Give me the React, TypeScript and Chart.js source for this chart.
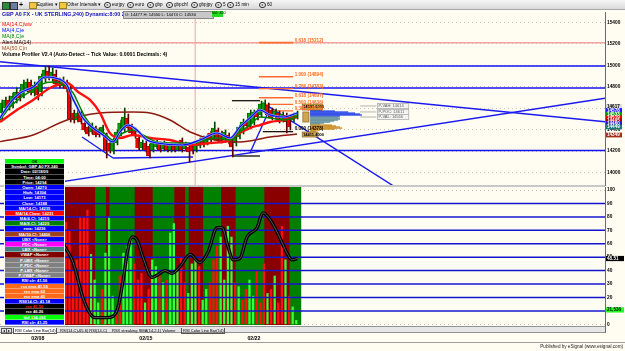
import React, { useEffect, useRef } from "react";
import { Chart, registerables } from "chart.js";
Chart.register(...registerables);

const FONT = '"Liberation Sans", Arial, sans-serif';

// ---------- price panel data (4h candles, index = bar number) ----------
const opens = [14555,14602,14677,14620,14677,14751,14714,14789,14845,14742,14807,14751,14873,14947,14882,14919,14863,14807,14845,14789,14555,14490,14555,14462,14425,14378,14415,14397,14359,14350,14275,14201,14275,14359,14397,14509,14434,14397,14322,14229,14275,14247,14210,14238,14266,14219,14257,14210,14247,14210,14303,14219,14238,14247,14210,14247,14322,14275,14369,14322,14397,14369,14303,14350,14303,14275,14331,14378,14471,14425,14462,14565,14537,14583,14630,14583,14518,14555,14490,14537,14518,14490,14509];
const highs = [14677,14705,14714,14742,14789,14770,14863,14873,14863,14845,14826,14919,14994,14994,14975,14957,14882,14892,14863,14807,14583,14583,14574,14480,14443,14462,14434,14415,14443,14369,14303,14322,14397,14490,14602,14546,14453,14415,14341,14303,14294,14266,14294,14303,14285,14294,14275,14275,14266,14266,14322,14285,14257,14266,14275,14322,14341,14350,14387,14471,14415,14387,14397,14369,14322,14369,14443,14499,14490,14583,14583,14593,14667,14677,14649,14602,14593,14574,14565,14555,14537,14555,14574];
const lows = [14490,14565,14583,14602,14649,14667,14695,14751,14723,14714,14677,14714,14845,14863,14854,14807,14789,14789,14751,14471,14462,14471,14453,14378,14341,14359,14331,14331,14341,14135,14182,14173,14257,14341,14378,14397,14350,14322,14210,14210,14191,14135,14191,14219,14191,14201,14191,14191,14191,14201,14191,14201,14098,14173,14191,14229,14238,14257,14285,14303,14285,14275,14285,14266,14145,14247,14313,14359,14415,14406,14443,14490,14518,14555,14518,14490,14499,14462,14471,14369,14397,14471,14499];
const closes = [14649,14677,14611,14714,14751,14695,14826,14845,14751,14817,14723,14901,14957,14882,14938,14826,14807,14863,14779,14499,14490,14555,14471,14397,14359,14443,14350,14350,14425,14201,14201,14303,14378,14462,14518,14415,14369,14350,14229,14285,14210,14154,14275,14285,14210,14275,14210,14257,14210,14247,14210,14266,14191,14201,14257,14303,14257,14331,14303,14415,14303,14303,14378,14285,14238,14350,14425,14471,14434,14555,14565,14518,14639,14649,14537,14509,14574,14471,14546,14471,14425,14546,14555];

// moving averages: [bar index, price]
const ma14ww = [[-0.5,14471],[4.2,14583],[8.7,14677],[13.4,14789],[18.1,14835],[21.2,14751],[24.5,14677],[27.3,14555],[30,14369],[32.8,14322],[36.4,14350],[41.2,14322],[46.7,14303],[52.3,14257],[57.8,14275],[63.4,14303],[66.1,14369],[68.9,14415],[71.7,14443],[74.5,14471],[78.1,14490],[82,14518]];
const ma8 = [[-0.5,14490],[2.3,14611],[5.1,14695],[8.7,14770],[12,14835],[14.8,14845],[18.1,14798],[19.8,14742],[21.7,14611],[23.1,14518],[25.3,14425],[28.1,14378],[30.9,14303],[33.7,14369],[36.4,14397],[39.2,14350],[43.1,14285],[48.1,14275],[52.3,14275],[59.8,14322],[63.4,14303],[66.1,14378],[68.9,14443],[71.7,14518],[74.5,14509],[78.1,14490],[82,14518]];
const ma4 = [[-0.5,14509],[2.3,14649],[5.1,14742],[8.7,14798],[12,14891],[14.8,14882],[18.1,14817],[19.5,14705],[20.9,14611],[22.5,14509],[25.3,14415],[28.1,14350],[30.9,14285],[32.8,14378],[35,14443],[37.5,14397],[40.3,14303],[43.1,14275],[50.3,14257],[55,14303],[59.8,14369],[63.4,14322],[66.1,14425],[68.9,14509],[71.7,14583],[74.5,14537],[78.1,14518],[82,14555]];
const ma50 = [[-0.5,14288],[8.7,14350],[18.1,14490],[27.3,14555],[36.4,14565],[41.2,14555],[46.7,14490],[52.3,14378],[59.2,14303],[66.1,14285],[74.5,14331],[82,14359]];

// drawing tools
const hLevels = [14994, 14789, 14205];
const blueSegments = [
  [[-0.5,15034],[167.5,14474]],
  [[7.8,13868],[167.5,14693]],
  [[72.5,14649],[109.2,13865]],
  [[22.3,14331],[30.9,14135]],
  [[30.9,14135],[53.1,14145]],
  [[68.9,14182],[73.9,14555]],
];
const blackSegments = [
  [[63.9,14670],[71.7,14670]],
  [[72.5,14381],[80.9,14381]],
];
const greySegments = [[[63.9,14154],[71.7,14154]]];
const fibLevels = [1.0, 0.786, 0.618, 0.5, 0.382];
const fibPrices = [14894, 14783, 14697, 14636, 14575];
const fibZeroPrice = 14378;
const fibUpperPrice = 15212;
const fibFrom = 71.4, fibTo = 80.9;
const markerBar = 53.7;
const priceTicks = [14000,14200,14400,14600,14800,15000,15200,15400];

// volume profile rows
const vpStart = 85.6;
const vpPrices = [14583,14574,14565,14555,14546,14537,14527,14518,14509,14499,14490,14481,14471,14462,14453,14443,14434,14425,14415,14406,14397,14387];
const vpLens = [3.3,6.9,10.6,12.5,13.9,14.4,8.3,7.8,8.3,8.3,7.8,6.7,5.6,3.9,2.8,6.1,7.2,8.3,8.9,6.9,2.8,1.7];
const vpKinds = "bbbbbbbttttttttoooooooo".split("");
const pLabels = ["P-VAH: 14614", "P-POC: 14611", "P-VAL: 14566"];
const pPrices = [14621, 14565, 14518];

// right axis value flags
const flagPrices = [14616,14579,14541,14509,14485,14457,14425,14350];
const flagTexts = ["14617","14578","14533","14519","14495","14460","14449","14349"];
const flagColors = ["#DCDCDC","#2020FF","#00A000","#FF0000","#B00000","#2020C0","#207878","#A03018"];

// ---------- lower panel data ----------
const bandStart = 17;
const bandKinds = "rrrrrrrrrgggrgggggggrrrrrggggggrrrgrrrrgggggrrrrggggggggrrrrrrrggg".split("");
const volStart = 18;
const volumes = [76,70,40,48,80,80,85,52,33,16,26,53,80,21,13,36,53,58,65,45,33,38,16,26,48,43,38,31,33,68,75,40,50,31,23,45,50,43,18,26,31,48,58,65,33,73,65,31,28,18,26,33,21,40,16,45,23,26,36,16,73,48,21,13,3];
const volKinds = "rrrrrrrgggrgggrrgggrrrgrggrgrgggrrgggrggrrrggggrgrrggrrrgrgrrgrgg".split("");
const rsi = [[17,60],[19.8,46],[22.5,20],[24.5,8],[25.9,5],[29.2,5],[30.9,6],[32.3,13],[33.7,33],[34.8,53],[36.2,65],[37.5,63],[39.2,50],[41.7,35],[43.4,37],[45.3,40],[47.3,38],[49.5,43],[52.3,52],[55,46],[57.3,54],[59.8,72],[61.2,72],[62.8,58],[64.2,48],[66.1,49],[68.1,65],[70.9,72],[72.5,83],[74.5,78],[77.3,64],[79.2,53],[80.6,48],[82,49]];
const rsiLevels = [10,20,30,40,50,60,70,80,90];
const rsiTicks = [0,10,20,30,40,50,60,70,80,90,100];
const weekTicks = [10, 40, 70];
const weekLabels = ["02/08", "02/15", "02/22"];

const infoRows: [string, string, string][] = [
  ["OK", "#00FF00", "#000"],
  ["Symbol: GBP A0 FX,240", "#000", "#fff"],
  ["Date: 02/18/09", "#000", "#fff"],
  ["Time: 04:00", "#000", "#fff"],
  ["Price: 14294", "#000", "#fff"],
  ["Open: 14270", "#0000FF", "#fff"],
  ["High: 14304", "#0000FF", "#fff"],
  ["Low: 14173", "#0000FF", "#fff"],
  ["Close: 14188", "#0000FF", "#fff"],
  ["MA(14,C): 14235", "#0000FF", "#fff"],
  ["MA(14,C)ww: 14231", "#FF0000", "#fff"],
  ["MA(4,C): 14219", "#0000FF", "#fff"],
  ["MA(8,C): 14229", "#008000", "#fff"],
  ["ema: 14236", "#0000FF", "#fff"],
  ["MA(50,C): 14406", "#A0401C", "#fff"],
  ["UBX <None>", "#0000FF", "#fff"],
  ["PDC <None>", "#FF00FF", "#fff"],
  ["LBX <None>", "#3F8080", "#fff"],
  ["VWAP <None>", "#800000", "#fff"],
  ["P-UBX <None>", "#808080", "#fff"],
  ["P-PDC <None>", "#808080", "#fff"],
  ["P-LBX <None>", "#808080", "#fff"],
  ["P-VWAP <None>", "#808080", "#fff"],
  ["RSI clr: 41.56", "#0000FF", "#fff"],
  ["rsx ema 41.56", "#FF6A1A", "#fff"],
  ["rsx ema 60", "#FF6A1A", "#fff"],
  ["rsx ema 40", "#FF6A1A", "#fff"],
  ["RSI(14,C): 41.18", "#0000FF", "#fff"],
  ["rsx 41.56", "#000", "#FF2020"],
  ["rsx 46.26", "#000", "#fff"],
  ["Vol 134,093", "#00FF00", "#fff"],
  ["RSI clr: 41.25", "#0000FF", "#fff"],
];

const legendRows: [string, string][] = [
  ["MA(14,C)ww", "#FF0000"],
  ["MA(4,C)e", "#0000FF"],
  ["MA(8,C)e", "#008000"],
  ["Alert MA(14)", "#000000"],
  ["MA(50,C)n", "#A0401C"],
  ["Volume Profiler V2.4 (Auto-Detect -- Tick Value: 0.0001 Decimals: 4)", "#000000"],
];
const toolbarItems = ["eurjpy", "euro", "gbp", "gbpchf", "gbpjpy", "5", "15 min", "60"];
const tabs = ["RSI Color Line Bar(14)", "RSI(14,C)-65.6) RSI(14,C)", "RSX streaking SMA(14,2,1) Volume", "RSI Color Line Bar(14)"];

const seg = (pts: number[][], color: string, width: number, order: number, dash?: number[]) => ({
  type: "line" as const,
  data: pts.map((p) => ({ x: p[0], y: p[1] })),
  borderColor: color,
  borderWidth: width,
  borderDash: dash || [],
  pointRadius: 0,
  tension: 0,
  order,
});
const curve = (pts: number[][], color: string, width: number, order: number) => ({
  type: "line" as const,
  data: pts.map((p) => ({ x: p[0], y: p[1] })),
  borderColor: color,
  borderWidth: width,
  pointRadius: 0,
  tension: 0.4,
  cubicInterpolationMode: "monotone" as const,
  order,
});

const pricePlugin = {
  id: "priceExtras",
  afterDatasetsDraw(chart: any) {
    const { ctx, scales } = chart;
    const x = scales.x, y = scales.y;
    ctx.save();
    // volume profile
    vpPrices.forEach((p, k) => {
      const py = y.getPixelForValue(p);
      const x0 = x.getPixelForValue(vpStart);
      const x1 = x.getPixelForValue(vpStart + vpLens[k]);
      const kind = vpKinds[k];
      ctx.fillStyle = kind === "b" ? "#2040E8" : kind === "t" ? "#5E8E98" : "#C8881E";
      ctx.fillRect(x0, py - 0.6, x1 - x0, 1.3);
    });
    // tan boxes
    ctx.font = `bold 4px ${FONT}`;
    ctx.textBaseline = "middle";
    const tan = (i0: number, i1: number, pTop: number, pBot: number, text: string) => {
      const xa = x.getPixelForValue(i0), xb = x.getPixelForValue(i1);
      const ya = y.getPixelForValue(pTop), yb = y.getPixelForValue(pBot);
      ctx.fillStyle = "#D0A450";
      ctx.fillRect(xa, ya, xb - xa, yb - ya);
      ctx.strokeStyle = "#7A5A20";
      ctx.lineWidth = 0.6;
      ctx.strokeRect(xa, ya, xb - xa, yb - ya);
      if (text) {
        ctx.fillStyle = "#000";
        ctx.fillText(text, xa + 1, (ya + yb) / 2);
      }
    };
    tan(83.4, 89.0, 14639, 14583, "14581.6000");
    tan(83.6, 85.3, 14565, 14471, "");
    tan(83.4, 87.8, 14378, 14331, "14411.4000");
    // P labels
    pPrices.forEach((p, k) => {
      const py = y.getPixelForValue(p);
      ctx.strokeStyle = "#A0A0A0";
      ctx.lineWidth = 0.8;
      ctx.beginPath();
      ctx.moveTo(x.getPixelForValue(99.5), py);
      ctx.lineTo(x.getPixelForValue(104), py);
      ctx.stroke();
      const bx = x.getPixelForValue(104.3), bw = x.getPixelForValue(113) - bx;
      ctx.fillStyle = "#F4F4F0";
      ctx.fillRect(bx, py - 2.5, bw, 5);
      ctx.strokeStyle = "#B0B0B0";
      ctx.strokeRect(bx, py - 2.5, bw, 5);
      ctx.fillStyle = "#606060";
      ctx.font = `4px ${FONT}`;
      ctx.fillText(pLabels[k], bx + 1, py);
    });
    // fib labels
    ctx.font = `bold 4.6px ${FONT}`;
    const lx = x.getPixelForValue(fibTo) + 1.5;
    fibLevels.forEach((lv, k) => {
      ctx.fillStyle = "#FF6A20";
      ctx.fillText(`${lv.toFixed(3)} (${fibPrices[k]})`, lx, y.getPixelForValue(fibPrices[k]) - 2);
    });
    ctx.fillStyle = "#FF6A20";
    ctx.fillText(`0.618 (${fibUpperPrice})`, lx, y.getPixelForValue(fibUpperPrice) - 2);
    ctx.fillStyle = "#000";
    ctx.fillText(`0.000 (${fibZeroPrice})`, lx, y.getPixelForValue(fibZeroPrice) - 3);
    ctx.restore();
  },
  afterDraw(chart: any) {
    const { ctx, scales, chartArea, width } = chart;
    const y = scales.y;
    ctx.save();
    ctx.font = `bold 4.6px ${FONT}`;
    ctx.textBaseline = "middle";
    flagPrices.forEach((p, k) => {
      const py = y.getPixelForValue(p);
      ctx.fillStyle = flagColors[k];
      ctx.fillRect(chartArea.right + 1, py - 2.4, width - chartArea.right - 4, 4.8);
      ctx.fillStyle = k === 0 ? "#000" : "#fff";
      ctx.fillText(flagTexts[k], chartArea.right + 2, py);
    });
    ctx.restore();
  },
};

const rsiPlugin = {
  id: "rsiExtras",
  afterDraw(chart: any) {
    const { ctx, scales, chartArea, width } = chart;
    const y = scales.y;
    ctx.save();
    ctx.font = `bold 4.6px ${FONT}`;
    ctx.textBaseline = "middle";
    const flag = (v: number, bg: string, fg: string, t: string) => {
      const py = y.getPixelForValue(v);
      ctx.fillStyle = bg;
      ctx.fillRect(chartArea.right + 1, py - 2.6, width - chartArea.right - 2, 5.2);
      ctx.fillStyle = fg;
      ctx.fillText(t, chartArea.right + 2, py);
    };
    flag(49, "#000", "#fff", "48.51");
    flag(10.7, "#22FF22", "#000", "21,536");
    ctx.restore();
  },
};

const fitY = (s: any) => {
  s.width = 20;
  s.paddingTop = 0;
  s.paddingBottom = 0;
};

export default function App() {
  const priceRef = useRef<HTMLCanvasElement>(null);
  const rsiRef = useRef<HTMLCanvasElement>(null);

  useEffect(() => {
    document.body.style.margin = "0";
    const up = closes.map((c, i) => c >= opens[i]);
    const priceChart = new Chart(priceRef.current!, {
      type: "bar",
      data: {
        datasets: [
          seg([[markerBar, 13874], [markerBar, 15498]], "#F2B0B0", 1.2, 40),
          seg([[-0.5, fibUpperPrice], [167.5, fibUpperPrice]], "#F4A4A0", 1.5, 39),
          ...hLevels.map((lv) => seg([[-0.5, lv], [167.5, lv]], "#1010F0", 1.6, 38)),
          ...blueSegments.map((s) => seg(s, "#1A1AF0", 1.4, 37)),
          ...greySegments.map((s) => seg(s, "#505050", 1.8, 36)),
          ...blackSegments.map((s) => seg(s, "#000000", 1.2, 36)),
          ...fibPrices.map((p) => seg([[fibFrom, p], [fibTo, p]], "#FF6A30", 1.4, 35)),
          seg([[fibFrom, fibUpperPrice], [fibTo, fibUpperPrice]], "#FF6A30", 1.6, 35),
          {
            type: "bar" as const,
            data: lows.map((l, i) => ({ x: i, y: [l, highs[i]] })),
            backgroundColor: up.map((u) => (u ? "#004A00" : "#5A0000")),
            barThickness: 1,
            order: 20,
          },
          {
            type: "bar" as const,
            data: opens.map((o, i) => ({ x: i, y: [o, closes[i]] })),
            backgroundColor: up.map((u) => (u ? "#00A000" : "#F00000")),
            borderColor: up.map((u) => (u ? "#004A00" : "#700000")),
            borderWidth: 0.6,
            borderSkipped: false,
            barThickness: 3,
            order: 19,
          },
          curve(ma50, "#8B1A12", 1.4, 9),
          curve(ma14ww, "#FF1010", 2.4, 8),
          curve(ma8, "#008000", 1.5, 7),
          curve(ma4, "#8CA0FF", 2.4, 6),
          curve(ma4, "#0000F0", 1.1, 5),
        ] as any,
      },
      options: {
        responsive: false,
        animation: false,
        events: [],
        layout: { padding: 0 },
        plugins: { legend: { display: false }, tooltip: { enabled: false } },
        scales: {
          x: { type: "linear", min: -0.5, max: 167.5, display: false, offset: false },
          y: {
            position: "right",
            min: 13874,
            max: 15498,
            afterFit: fitY,
            afterBuildTicks: (s: any) => { s.ticks = priceTicks.map((v) => ({ value: v })); },
            ticks: { font: { size: 4.8, family: FONT, weight: "bold" }, color: "#000", padding: 2, callback: (v: any) => String(v) },
            grid: { color: "#CFC4B8", drawTicks: false, lineWidth: 1 },
            border: { display: true, color: "#6A6A6A", width: 1, dash: [1, 3] },
          },
        },
      } as any,
      plugins: [pricePlugin],
    });

    const rsiChart = new Chart(rsiRef.current!, {
      type: "bar",
      data: {
        datasets: [
          {
            type: "bar" as const,
            data: bandKinds.map((_, k) => ({ x: bandStart + k, y: [-1, 104] })),
            backgroundColor: bandKinds.map((c) => (c === "r" ? "#8A0000" : "#008000")),
            barThickness: 3.8,
            order: 30,
          },
          {
            type: "bar" as const,
            data: volumes.map((v, k) => ({ x: volStart + k, y: v })),
            backgroundColor: volKinds.map((c) => (c === "r" ? "#FF1010" : "#38FF38")),
            barThickness: 1.6,
            order: 20,
          },
          ...rsiLevels.map((lv) => seg([[-0.5, lv], [167.5, lv]], "#1414D0", 1.5, 10)),
          curve(rsi, "#000000", 3.4, 2),
          curve(rsi, "#6E6E6E", 0.8, 1),
        ] as any,
      },
      options: {
        responsive: false,
        animation: false,
        events: [],
        layout: { padding: 0 },
        plugins: { legend: { display: false }, tooltip: { enabled: false } },
        scales: {
          x: {
            type: "linear",
            min: -0.5,
            max: 167.5,
            offset: false,
            afterFit: (s: any) => { s.height = 20; s.paddingLeft = 0; s.paddingRight = 0; },
            afterBuildTicks: (s: any) => { s.ticks = weekTicks.map((v) => ({ value: v })); },
            ticks: {
              callback: (v: any) => weekLabels[weekTicks.indexOf(v)] ?? "",
              font: { size: 5.2, family: FONT, weight: "bold" },
              color: "#000",
              padding: 10,
              maxRotation: 0,
              autoSkip: false,
            },
            grid: { display: false, drawTicks: false },
            border: { display: false },
          },
          y: {
            position: "right",
            min: -0.5,
            max: 102.25,
            afterFit: fitY,
            afterBuildTicks: (s: any) => { s.ticks = rsiTicks.map((v) => ({ value: v })); },
            ticks: { font: { size: 4.8, family: FONT, weight: "bold" }, color: "#000", padding: 2, callback: (v: any) => String(v) },
            grid: {
              drawTicks: false,
              color: (c: any) => (c.tick && (c.tick.value === 0 || c.tick.value === 100) ? "#D0B8B8" : "rgba(0,0,0,0)"),
            },
            border: { display: true, color: "#6A6A6A", width: 1, dash: [1, 3] },
          },
        },
      } as any,
      plugins: [rsiPlugin],
    });

    return () => {
      priceChart.destroy();
      rsiChart.destroy();
    };
  }, []);

  const small: React.CSSProperties = { position: "absolute", whiteSpace: "nowrap", fontFamily: FONT };

  return (
    <div style={{ position: "absolute", left: 0, top: 0, width: 625, height: 351, background: "#FFFDF1", overflow: "hidden", fontFamily: FONT }}>
      <canvas ref={priceRef} width={625} height={174} style={{ position: "absolute", left: 0, top: 12 }} />
      <canvas ref={rsiRef} width={625} height={158} style={{ position: "absolute", left: 0, top: 187 }} />
      {/* toolbar */}
      <div style={{ position: "absolute", left: 0, top: 0, width: 625, height: 9, background: "linear-gradient(#F6F6F6,#DADADA)", borderBottom: "1px solid #A8A8A8" }}>
        <div style={{ ...small, left: 2, top: 1.5, width: 6, height: 6, background: "#2E8B3C", border: "0.5px solid #333" }} />
        <div style={{ ...small, left: 10, top: 1.5, width: 6, height: 6, background: "#6C7CA0", border: "0.5px solid #333" }} />
        <div style={{ ...small, left: 19, top: 0.5, fontSize: 7, fontWeight: "bold", lineHeight: "8px" }}>+</div>
        <div style={{ ...small, left: 29, top: 2, width: 6, height: 5, background: "#F0C840", border: "0.5px solid #A08020" }} />
        <div style={{ ...small, left: 37, top: 2, fontSize: 4.6, lineHeight: "5px" }}>Equities ▾</div>
        <div style={{ ...small, left: 59, top: 2, width: 6, height: 5, background: "#F0C840", border: "0.5px solid #A08020" }} />
        <div style={{ ...small, left: 67, top: 2, fontSize: 4.6, lineHeight: "5px" }}>Other Intervals ▾</div>
        {toolbarItems.map((t, k) => (
          <div key={k} style={{ ...small, left: [104, 127, 147, 166, 191, 215, 227, 259][k], top: 1.5, fontSize: 4.6, lineHeight: "6px", display: "flex", alignItems: "center", gap: 1.5 }}>
            <span style={{ display: "inline-block", width: 4.5, height: 4.5, borderRadius: "50%", border: "0.7px solid #333", fontSize: 3.5, lineHeight: "4.5px", textAlign: "center" }}>s</span>
            {t}
          </div>
        ))}
      </div>
      {/* title */}
      <div style={{ ...small, left: 2, top: 10.5, fontSize: 5.4, fontWeight: "bold", color: "#1010C0", lineHeight: "6px" }}>GBP A0 FX - UK STERLING,240) Dynamic:8:00 21:00</div>
      <div style={{ ...small, left: 123, top: 11, width: 88, height: 5.5, background: "#C8C8C8", border: "0.5px solid #888", fontSize: 4.2, lineHeight: "5.5px", paddingLeft: 1 }}>O: 14477 H: 14550 L: 14474 C: 14530</div>
      <div style={{ ...small, left: 212, top: 11, width: 11, height: 5.5, background: "#22DD22", fontSize: 3.8, lineHeight: "5.5px", textAlign: "center" }}>Vol: 450</div>
      {legendRows.map(([t, c], k) => (
        <div key={k} style={{ ...small, left: 2, top: 21.3 + k * 6, fontSize: 5.2, color: c, lineHeight: "6px", fontWeight: k === 5 ? "bold" : "normal" }}>{t}</div>
      ))}
      {/* panel separator */}
      <div style={{ position: "absolute", left: 0, top: 185, width: 605, height: 2, background: "#C8C8C8" }} />
      {/* info table */}
      <div style={{ position: "absolute", left: 4, top: 158, width: 59, border: "0.5px solid #fff" }}>
        {infoRows.map(([t, bg, fg], k) => (
          <div key={k} style={{ height: 5.2, background: bg, color: fg, fontSize: 4.1, lineHeight: "5.2px", textAlign: "center", fontWeight: "bold", whiteSpace: "nowrap", overflow: "hidden", borderBottom: "0.3px solid rgba(255,255,255,0.35)", boxSizing: "border-box" }}>{t}</div>
        ))}
      </div>
      {/* tabs row */}
      <div style={{ position: "absolute", left: 0, top: 326, width: 605, height: 7, background: "#E6E6E6", borderTop: "0.5px solid #909090", borderBottom: "0.5px solid #909090", boxSizing: "border-box" }}>
        <div style={{ ...small, left: 1, top: 1, width: 4, height: 4, border: "0.5px solid #555", fontSize: 3.5, lineHeight: "4px", textAlign: "center" }}>◂</div>
        <div style={{ ...small, left: 6, top: 1, width: 4, height: 4, border: "0.5px solid #555", fontSize: 3.5, lineHeight: "4px", textAlign: "center" }}>▸</div>
        {tabs.map((t, k) => (
          <div key={k} style={{ ...small, left: [13, 59, 111, 181][k], top: 0.5, fontSize: 4, lineHeight: "5.5px", padding: "0 1px", border: k === 0 || k === 3 ? "0.5px solid #555" : "none", borderTop: "none", background: k === 0 ? "#FFFFFF" : "transparent" }}>{t}</div>
        ))}
      </div>
      {/* right axis extension and bottom line */}
      <div style={{ position: "absolute", left: 604.5, top: 325, width: 1, height: 8, background: "#6A6A6A" }} />
      <div style={{ position: "absolute", left: 0, top: 342, width: 625, height: 1, background: "#A0A0A0" }} />
      <div style={{ ...small, right: 2, top: 343.5, fontSize: 4.6, lineHeight: "6px", color: "#222" }}>Published by eSignal (www.esignal.com)</div>
    </div>
  );
}
